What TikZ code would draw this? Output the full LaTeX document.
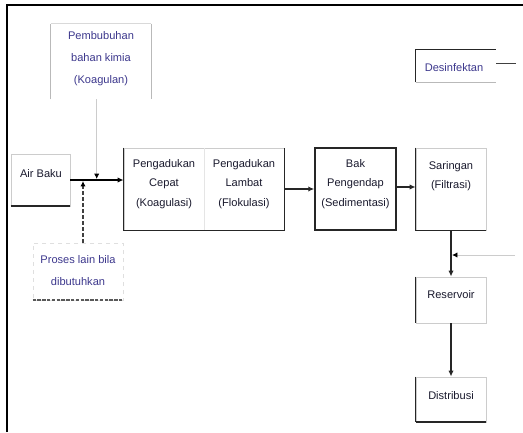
\documentclass[tikz,border=0pt]{standalone}
\usepackage{fontspec}
\setmainfont{Liberation Sans}
\usetikzlibrary{arrows.meta}
\definecolor{annot}{RGB}{60,55,140}
\definecolor{ink}{RGB}{25,25,45}
\begin{document}
\begin{tikzpicture}[x=0.75pt,y=-0.75pt,
  box/.style={draw=gray!40, line width=0.6pt, inner sep=0pt},
  dk/.style={draw=black!85, line width=1.1pt},
  dkthick/.style={draw=black!85, line width=1.6pt},
  lt/.style={draw=gray!55, line width=0.6pt},
  txt/.style={font=\fontsize{8.3}{14.5}\selectfont, align=center, text=ink, inner sep=0pt},
  atxt/.style={font=\fontsize{8.3}{16.5}\selectfont, align=center, text=annot, inner sep=0pt},
  flow/.style={line width=1.1pt, draw=black!85, -{Latex[length=4.5pt,width=4pt]}},
  mainflow/.style={line width=1.5pt, draw=black, -{Latex[length=4.5pt,width=4pt]}}
]
\useasboundingbox (0,0) rectangle (523,432);
% outer frame (left and top)
\draw[line width=2pt] (7,432) -- (7,5) -- (523,5);

% boxes
\node[box, draw=none, minimum width=75pt, minimum height=56.25pt] (pem) at (101,61.5) {};
\draw[lt] (pem.south west) -- (pem.north west);
\draw[draw=gray!30, line width=0.6pt] (pem.north west) -- (pem.north east);
\draw[lt] (pem.north east) -- (pem.south east);
\node[atxt] (pemt) at (101,59) {Pembubuhan\\bahan kimia\\(Koagulan)};

\node[box, minimum width=44.25pt, minimum height=39pt] (ab) at (40.5,180) {};
\draw[dkthick] (ab.south west) -- (ab.south east);
\node[txt] (abt) at (41,174) {Air Baku};

\node[box, minimum width=120pt, minimum height=61.5pt] (peng) at (204,189) {};
\draw[dk] (peng.north west) -- (peng.south west) -- (peng.south east) -- (peng.north east);
\draw[draw=gray!20, line width=0.5pt] (peng.north) -- (peng.south);
\node[txt] (pengt1) at (164,184) {Pengadukan\\Cepat\\(Koagulasi)};
\node[txt] (pengt2) at (244,184) {Pengadukan\\Lambat\\(Flokulasi)};

\node[box, dk, minimum width=60.75pt, minimum height=61.5pt] (bak) at (355.5,189) {};
\node[txt] (bakt) at (355.5,184) {Bak\\Pengendap\\(Sedimentasi)};

\node[box, minimum width=52.5pt, minimum height=61.5pt] (sar) at (451,189) {};
\draw[dk] (sar.north west) -- (sar.south west) -- (sar.south east);
\node[txt] (sart) at (451,176) {Saringan\\(Filtrasi)};

\node[box, minimum width=52.5pt, minimum height=34.5pt] (res) at (451,300) {};
\draw[dk] (res.north west) -- (res.south west);
\node[txt] (rest) at (451,295) {Reservoir};

\node[box, minimum width=52.5pt, minimum height=33.75pt] (dis) at (451,399.5) {};
\draw[dk] (dis.north west) -- (dis.south west);
\draw[dkthick] (dis.south west) -- (dis.south east);
\node[txt] (dist) at (451,396) {Distribusi};

\node[box, draw=none, minimum width=60pt, minimum height=24pt] (des) at (456,66) {};
\draw[dk] (des.south west) -- (des.north west) -- (des.north east);
\draw[lt] (des.south west) -- (des.south east);
\node[atxt] (dest) at (454,68) {Desinfektan};
\coordinate (destail) at (516,63.5);
\draw[line width=1pt, draw=black!75] (destail -| des.east) -- (destail);

\node[box, draw=gray!25, dashed, minimum width=67.5pt, minimum height=42.75pt] (pro) at (78,271.5) {};
\draw[draw=black!65, line width=1.5pt, dash pattern=on 2.6pt off 1pt] (pro.south west) -- (pro.south east);
\node[atxt] (prot) at (78,271) {Proses lain bila\\dibutuhkan};

% connectors
\coordinate (j1) at (96.7,180);
\coordinate (j2) at (83,180);
\draw[mainflow] (ab.east) -- (ab.east -| peng.west);
\draw[draw=gray!40, line width=0.6pt, -{Latex[black,length=4pt,width=4pt]}] (pem.south -| j1) -- ([yshift=0.8pt]j1);
\draw[draw=black!75, line width=1pt, dash pattern=on 3pt off 1.5pt, -{Latex[black,length=4pt,width=4pt]}] (pro.north -| j2) -- ([yshift=-0.8pt]j2);
\draw[flow] (peng.east) -- (peng.east -| bak.west);
\draw[flow] ([yshift=1.5pt]bak.east) -- ([yshift=1.5pt]bak.east -| sar.west);
\draw[flow] (sar.south) -- (sar.south |- res.north);
\draw[flow] (res.south) -- (dis.north);
\coordinate (side) at (515,255);
\draw[draw=gray!40, line width=0.6pt, -{Latex[black,length=4pt,width=4pt]}] (side) -- ([xshift=0.8pt]side -| sar.south);
\end{tikzpicture}
\end{document}
